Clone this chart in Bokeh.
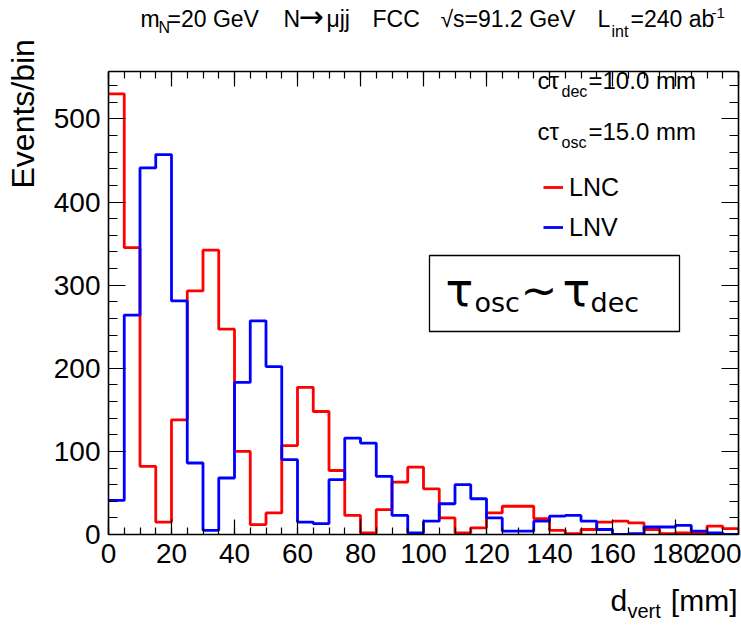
import numpy as np
from bokeh.plotting import figure
from bokeh.layouts import row, column
from bokeh.models import (ColumnDataSource, FixedTicker, LinearAxis, Label, BoxAnnotation,
                          Legend, LegendItem, CustomJSTickFormatter, Range1d)
from bokeh.embed import file_html
from bokeh.resources import INLINE

# ---------------- data ----------------
bin_width = 5.0
bin_low = [float(v) for v in np.arange(0.0, 200.0, bin_width)]   # 40 bins, 0..200 mm
lnc = [530, 345, 82, 15, 138, 293, 342, 247, 100, 12,
       26, 107, 177, 148, 77, 23, 2, 30, 63, 81,
       55, 20, 2, 8, 26, 34, 34, 19, 5, 1,
       6, 15, 16, 14, 6, 1, 2, 2, 10, 7]
lnv = [41, 264, 441, 457, 281, 86, 5, 68, 183, 257,
       202, 90, 15, 13, 66, 116, 110, 70, 23, 2,
       16, 37, 60, 43, 20, 4, 4, 16, 22, 23,
       16, 6, 0, 1, 9, 9, 11, 4, 2, 0]
x_ticks = [0, 20, 40, 60, 80, 100, 120, 140, 160, 180, 200]
y_ticks = [0, 100, 200, 300, 400, 500]

# ---------------- geometry (canvas pixels) ----------------
W, H = 741, 625
LW = 46            # left strip (y title)
TH = 50            # top strip (title)
BH = 45            # bottom strip (x title)
MH = H - TH - BH   # main plot height
FL, FR, FT, FB = 108, 738, 71, 534       # frame edges in page pixels
XMIN, XMAX, YMIN, YMAX = 0.0, 200.0, 0.0, 557.0
FONT = "Liberation Sans"
KB = 0.4           # baseline correction (fraction of font size)


def X(px):
    return XMIN + (px - FL) / (FR - FL) * (XMAX - XMIN)


def Y(py):
    return YMIN + (FB - py) / (FB - FT) * (YMAX - YMIN)


p = figure(width=W - LW, height=MH, x_range=Range1d(XMIN, XMAX), y_range=Range1d(YMIN, YMAX),
           output_backend="svg", toolbar_location=None,
           min_border_left=FL - LW, min_border_right=W - FR,
           min_border_top=FT - TH, min_border_bottom=TH + MH - FB,
           background_fill_color="white", border_fill_color="white", outline_line_color=None)
p.xgrid.visible = False
p.ygrid.visible = False

xt = FixedTicker(ticks=x_ticks, minor_ticks=[float(v) for v in np.arange(0, 201, 5)])
yt = FixedTicker(ticks=y_ticks, minor_ticks=[float(v) for v in np.arange(0, 560, 20)])


def style_axis(ax, major, minor):
    ax.axis_line_color = "black"
    ax.axis_line_width = 1.6
    ax.major_tick_line_color = "black"
    ax.minor_tick_line_color = "black"
    ax.major_tick_line_width = 1.2
    ax.minor_tick_line_width = 1.2
    ax.major_tick_in = major
    ax.major_tick_out = 0
    ax.minor_tick_in = minor
    ax.minor_tick_out = 0


xa = p.xaxis[0]
xa.ticker = xt
style_axis(xa, 15, 7)
xa.major_label_text_font = FONT
xa.major_label_text_font_size = "28px"
xa.major_label_text_color = "black"
xa.major_label_standoff = 9

ya = p.yaxis[0]
ya.ticker = yt
style_axis(ya, 17, 9)
ya.major_label_text_font = FONT
ya.major_label_text_font_size = "28px"
ya.major_label_text_color = "black"
ya.major_label_standoff = 8

blank = CustomJSTickFormatter(code="return ''")
top = LinearAxis(ticker=xt, formatter=blank, major_label_text_font_size="1px", major_label_standoff=0)
style_axis(top, 15, 7)
p.add_layout(top, "above")
right = LinearAxis(ticker=yt, formatter=blank, major_label_text_font_size="1px", major_label_standoff=0)
style_axis(right, 17, 9)
p.add_layout(right, "right")

# ---------------- histograms ----------------
edges = bin_low + [bin_low[-1] + bin_width]
src = ColumnDataSource(data=dict(x=edges, lnc=lnc + [lnc[-1]], lnv=lnv + [lnv[-1]]))
r_lnc = p.step(x="x", y="lnc", source=src, mode="after", line_color="#ff0000", line_width=2.8)
r_lnv = p.step(x="x", y="lnv", source=src, mode="after", line_color="#0000ff", line_width=2.8)

# ---------------- legend ----------------
leg = Legend(items=[LegendItem(label="LNC", renderers=[r_lnc]),
                    LegendItem(label="LNV", renderers=[r_lnv])],
             location=(435, 287), orientation="vertical",
             label_text_font=FONT, label_text_font_size="25px", label_text_color="black",
             glyph_width=20, glyph_height=40, label_height=40, spacing=0, padding=0, margin=0,
             label_standoff=6, border_line_alpha=0, background_fill_alpha=0)
p.add_layout(leg)


# ---------------- texts ----------------
def lab(fig, text, x, y, size, font=FONT, align="left", angle=0.0):
    fig.add_layout(Label(x=x, y=y, text=text, text_font=font, text_font_size=f"{size}px",
                         text_align=align, text_baseline="alphabetic", angle=angle,
                         text_color="black"))


def mlab(text, px, py, size, font=FONT):
    lab(p, text, X(px), Y(py - KB * size), size, font)


# lifetimes
mlab("cτ", 537, 90, 24)
mlab("dec", 561, 97, 16)
mlab("=10.0 mm", 588, 90, 24)
mlab("cτ", 537, 141, 24)
mlab("osc", 561, 148, 16)
mlab("=15.0 mm", 588, 141, 24)

# boxed statement
box = BoxAnnotation(left=X(429), right=X(679), top=Y(255), bottom=Y(331),
                    fill_color="white", fill_alpha=1.0, line_color="black", line_alpha=1.0,
                    line_width=1.3)
p.add_layout(box)
mlab("τ", 445, 308, 46, font="DejaVu Sans")
mlab("osc", 474, 313, 27, font="DejaVu Sans")
mlab("~", 520, 308, 44, font="DejaVu Sans")
mlab("τ", 562, 308, 46, font="DejaVu Sans")
mlab("dec", 590, 313, 27, font="DejaVu Sans")


def text_fig(w, h, x0, x1):
    # the strip's frame is aligned by the layout with the main frame (page x FL..FR),
    # so its x range is given in page pixels
    f = figure(width=w, height=h, x_range=Range1d(x0, x1), y_range=Range1d(0, h),
               x_axis_type=None, y_axis_type=None, output_backend="svg", toolbar_location=None,
               min_border=0, outline_line_color=None,
               background_fill_color="white", border_fill_color="white")
    f.xgrid.visible = False
    f.ygrid.visible = False
    return f


# top title strip (page y 0..50)
top_fig = text_fig(W - LW, TH, FL, FR)


def tlab(text, px, py, size, font=FONT):
    lab(top_fig, text, px, TH - (py - KB * size), size, font=font)


tlab("m", 140, 28, 23)
tlab("N", 158, 33, 16)
tlab("=20 GeV", 167, 28, 23)
tlab("N", 283, 28, 23)
tlab("→", 298, 28, 30, font="DejaVu Sans")
tlab("μjj", 326, 28, 23)
tlab("FCC", 372, 28, 23)
tlab("√s=91.2 GeV", 440, 28, 23)
tlab("L", 597, 28, 23)
tlab("int", 611, 37, 16)
tlab("=240 ab", 630, 28, 23)
tlab("-1", 711, 18, 15)

# bottom strip (page y 580..625)
bot_fig = text_fig(W - LW, BH, FL, FR)


def blab(text, px, py, size, align="left"):
    lab(bot_fig, text, px, H - (py - KB * size), size, align=align)


blab("d", 610, 612, 30)
blab("vert", 627, 618, 20)
blab("[mm]", 737, 612, 30, align="right")

# left strip (page x 0..46, y 0..625)
left_fig = text_fig(LW, H, 0, LW)
lab(left_fig, "Events/bin", 35 - KB * 32, H - 188, 32, angle=np.pi / 2)

layout = row(left_fig, column(top_fig, p, bot_fig))
open("out.html", "w").write(file_html(layout, INLINE))
